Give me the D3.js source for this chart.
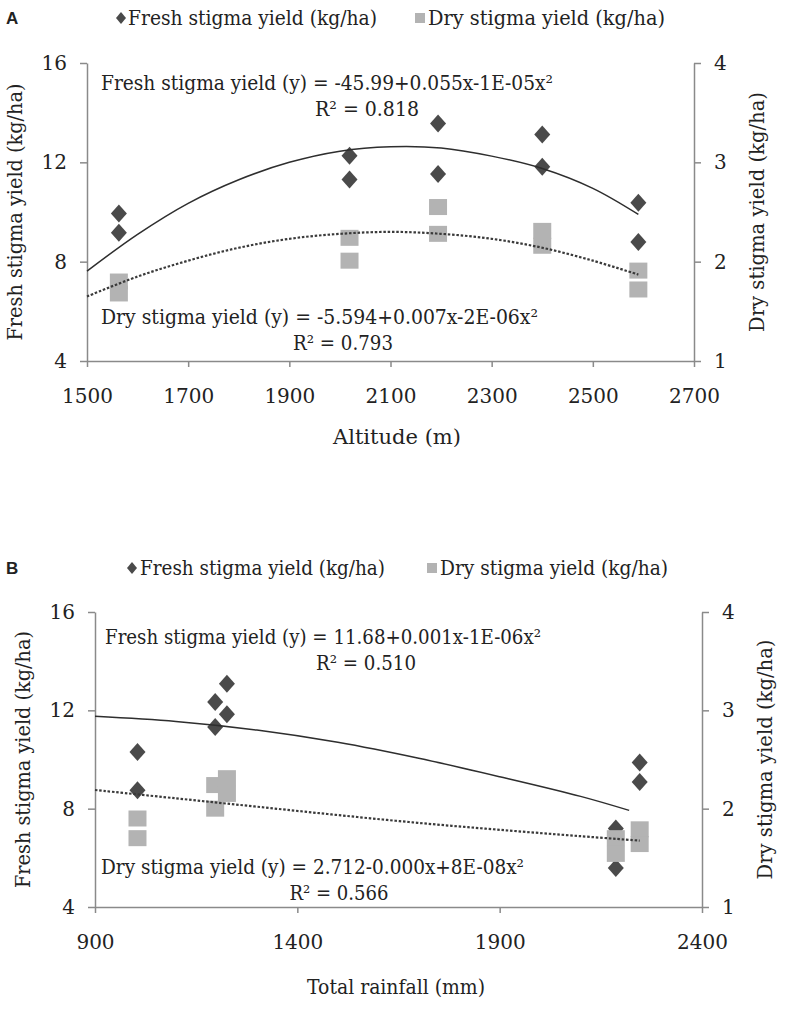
<!DOCTYPE html>
<html><head><meta charset="utf-8">
<script src="https://cdn.jsdelivr.net/npm/d3@7"></script>
<style>body{margin:0;background:#fff} svg{display:block}</style>
</head><body>
<svg id="chart" width="787" height="1015"></svg>
<script>
// ---------- Panel A data (altitude) ----------
const altitudeX = [1563,1563,2019,2019,2194,2194,2400,2400,2590,2590];
const freshA = [9.94,9.16,12.27,11.31,13.56,11.53,13.12,11.82,10.37,8.79];
const dryA = [1.80,1.68,2.24,2.01,2.55,2.28,2.31,2.16,1.91,1.72];
const freshTrendAX = [1500,1600,1700,1800,1900,2000,2100,2200,2300,2400,2500,2590];
const freshTrendAY = [7.62,9.1,10.35,11.3,12.0,12.45,12.63,12.58,12.25,11.75,10.95,9.9];
const dryTrendAX = [1500,1600,1700,1800,1900,2000,2100,2200,2300,2400,2500,2590];
const dryTrendAY = [1.65,1.85,2.01,2.14,2.23,2.28,2.30,2.28,2.23,2.14,2.01,1.87];
const ticksAX = [1500,1700,1900,2100,2300,2500,2700];

// ---------- Panel B data (rainfall) ----------
const rainfallX = [1005,1005,1197,1197,1226,1226,2187,2187,2246,2246];
const freshB = [10.31,8.75,12.34,11.32,13.08,11.84,7.19,5.59,9.88,9.08];
const dryB = [1.90,1.70,2.24,2.00,2.31,2.15,1.70,1.54,1.79,1.64];
const freshTrendBX = [900,1100,1300,1500,1700,1900,2100,2220];
const freshTrendBY = [11.76,11.55,11.2,10.7,10.05,9.3,8.5,7.93];
const dryTrendBX = [900,1100,1300,1500,1700,1900,2100,2246];
const dryTrendBY = [2.19,2.105,2.02,1.935,1.855,1.785,1.72,1.675];
const ticksBX = [900,1400,1900,2400];

const ticksLeft = [4,8,12,16];
const ticksRight = [1,2,3,4];
const legendLabels = ["Fresh stigma yield (kg/ha)","Dry stigma yield (kg/ha)"];

const svg = d3.select("#chart");
const SERIF = "'DejaVu Serif',serif";
const AXC = "#8a8a8a", TXT = "#222", DIA = "#4a4a4a", SQ = "#b3b3b3";

function text(g, x, y, s, o = {}) {
  const t = g.append("text").attr("x", x).attr("y", y).attr("dy", "0.35em")
    .attr("font-family", o.family || SERIF).attr("font-size", o.size || 20)
    .attr("fill", TXT).attr("text-anchor", o.anchor || "start").text(s);
  if (o.weight) t.attr("font-weight", o.weight);
  if (o.len) t.attr("textLength", o.len).attr("lengthAdjust", "spacingAndGlyphs");
  if (o.rot) t.attr("transform", `rotate(${o.rot},${x},${y})`);
  return t;
}

function panel(cfg) {
  const g = svg.append("g");
  const x = d3.scaleLinear().domain(cfg.xdom).range([cfg.left, cfg.right]);
  const yL = d3.scaleLinear().domain([4,16]).range([cfg.bottom, cfg.top]);
  const yR = d3.scaleLinear().domain([1,4]).range([cfg.bottom, cfg.top]);

  // axes
  const ax = g.append("g").attr("transform", `translate(0,${cfg.bottom})`)
    .call(d3.axisBottom(x).tickValues(cfg.xticks).tickSize(6).tickSizeOuter(0).tickFormat(d3.format("d")));
  const al = g.append("g").attr("transform", `translate(${cfg.left},0)`)
    .call(d3.axisLeft(yL).tickValues(ticksLeft).tickSize(7).tickSizeOuter(0).tickFormat(d3.format("d")));
  const ar = g.append("g").attr("transform", `translate(${cfg.right},0)`)
    .call(d3.axisRight(yR).tickValues(ticksRight).tickSize(7).tickSizeOuter(0).tickFormat(d3.format("d")));
  [ax, al, ar].forEach(a => {
    a.attr("font-family", SERIF);
    a.select(".domain").attr("stroke", AXC).attr("stroke-width", 1.5);
    a.selectAll(".tick line").attr("stroke", AXC).attr("stroke-width", 1.5);
    a.selectAll(".tick text").attr("font-family", SERIF).attr("font-size", 20).attr("fill", TXT);
  });
  ax.selectAll(".tick text").attr("y", 28);
  al.selectAll(".tick text").attr("x", -20);
  ar.selectAll(".tick text").attr("x", 20);

  // markers
  const pts = cfg.px.map((d, i) => ({x: d, f: cfg.fresh[i], d: cfg.dry[i]}));
  g.append("g").selectAll("path").data(pts).join("path")
    .attr("transform", d => `translate(${x(d.x)},${yL(d.f)})`)
    .attr("d", "M0,-9L8,0L0,9L-8,0Z").attr("fill", DIA);
  g.append("g").selectAll("rect").data(pts).join("rect")
    .attr("x", d => x(d.x) - 9).attr("y", d => yR(d.d) - 8)
    .attr("width", 18).attr("height", 16).attr("fill", SQ);

  // trendlines
  const lf = d3.line().x(d => x(d[0])).y(d => yL(d[1])).curve(d3.curveCatmullRom);
  const ld = d3.line().x(d => x(d[0])).y(d => yR(d[1])).curve(d3.curveCatmullRom);
  g.append("path").attr("d", lf(cfg.ftx.map((v, i) => [v, cfg.fty[i]])))
    .attr("fill", "none").attr("stroke", "#2e2e2e").attr("stroke-width", 1.5);
  g.append("path").attr("d", ld(cfg.dtx.map((v, i) => [v, cfg.dty[i]])))
    .attr("fill", "none").attr("stroke", "#3a3a3a").attr("stroke-width", 2.2)
    .attr("stroke-dasharray", "2.5,1.8");

  // equations
  cfg.eqs.forEach(e => text(g, e.x, e.y, e.s, {anchor: e.anchor || "start", len: e.len}));

  // axis titles
  const cy = (cfg.top + cfg.bottom) / 2;
  text(g, cfg.ltx, cy, legendLabels[0], {anchor: "middle", rot: -90, len: 257});
  text(g, cfg.rtx, cy, legendLabels[1], {anchor: "middle", rot: -90, len: 240});
  text(g, cfg.xtx, cfg.xty, cfg.xtitle, {anchor: "middle", len: cfg.xtlen});

  // legend + panel letter
  text(g, 6, cfg.ly, cfg.letter, {family: "'Liberation Sans',Arial,sans-serif", size: 17, weight: "bold"});
  g.append("path").attr("transform", `translate(${cfg.lg[0]},${cfg.ly})`)
    .attr("d", "M0,-6L5,0L0,6L-5,0Z").attr("fill", DIA);
  text(g, cfg.lg[1], cfg.ly, legendLabels[0], {len: cfg.lg[2]});
  g.append("rect").attr("x", cfg.lg[3] - 5).attr("y", cfg.ly - 5).attr("width", 10).attr("height", 10).attr("fill", SQ);
  text(g, cfg.lg[4], cfg.ly, legendLabels[1], {len: cfg.lg[5]});
}

panel({
  letter: "A", xdom: [1500, 2700], xticks: ticksAX,
  left: 87, right: 694, top: 63, bottom: 361,
  px: altitudeX, fresh: freshA, dry: dryA,
  ftx: freshTrendAX, fty: freshTrendAY, dtx: dryTrendAX, dty: dryTrendAY,
  eqs: [
    {x: 101, y: 83, s: "Fresh stigma yield (y) = -45.99+0.055x-1E-05x²", len: 452},
    {x: 367, y: 109, s: "R² = 0.818", anchor: "middle", len: 104},
    {x: 101, y: 317, s: "Dry stigma yield (y) = -5.594+0.007x-2E-06x²", len: 437},
    {x: 343, y: 343, s: "R² = 0.793", anchor: "middle", len: 100}
  ],
  ltx: 15, rtx: 757, xtx: 397, xty: 437, xtitle: "Altitude (m)", xtlen: 128,
  ly: 18, lg: [121, 128, 249, 420, 428, 237]
});

panel({
  letter: "B", xdom: [900, 2400], xticks: ticksBX,
  left: 95, right: 702, top: 612, bottom: 907,
  px: rainfallX, fresh: freshB, dry: dryB,
  ftx: freshTrendBX, fty: freshTrendBY, dtx: dryTrendBX, dty: dryTrendBY,
  eqs: [
    {x: 105, y: 637, s: "Fresh stigma yield (y) = 11.68+0.001x-1E-06x²", len: 436},
    {x: 366, y: 663, s: "R² = 0.510", anchor: "middle", len: 100},
    {x: 101, y: 867, s: "Dry stigma yield (y) = 2.712-0.000x+8E-08x²", len: 423},
    {x: 339, y: 893, s: "R² = 0.566", anchor: "middle", len: 99}
  ],
  ltx: 23, rtx: 765, xtx: 396, xty: 987, xtitle: "Total rainfall (mm)", xtlen: 178,
  ly: 568, lg: [132, 140, 245, 432, 440, 228]
});
</script>
</body></html>
